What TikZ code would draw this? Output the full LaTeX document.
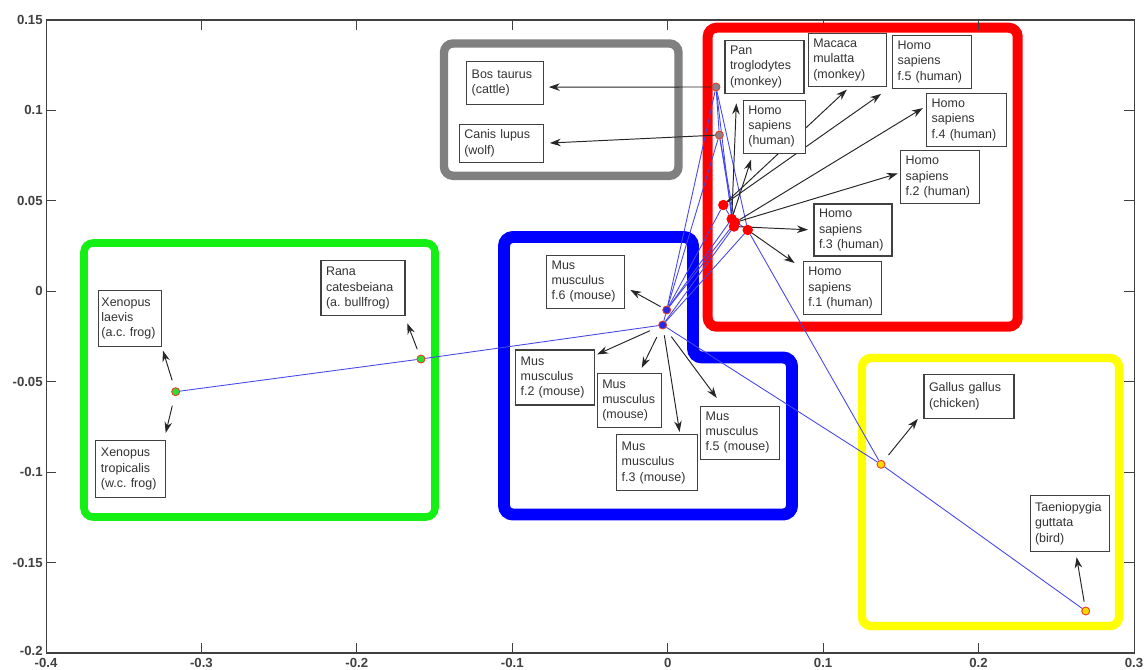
\documentclass[tikz,border=0pt]{standalone}
\usepackage{fontspec}
\setmainfont{Liberation Sans}
\usepackage{tikz}
\usetikzlibrary{arrows.meta,positioning,backgrounds}
\definecolor{grpgray}{RGB}{128,128,128}
\definecolor{grpred}{RGB}{255,0,0}
\definecolor{grpblue}{RGB}{0,0,255}
\definecolor{grpgreen}{RGB}{20,240,20}
\definecolor{grpyellow}{RGB}{255,255,0}
\definecolor{treeblue}{RGB}{70,70,235}
\definecolor{ptedge}{RGB}{230,60,30}
\definecolor{ptgreen}{RGB}{50,220,50}
\definecolor{ptblue}{RGB}{40,40,230}
\definecolor{ptgray}{RGB}{135,130,140}
\definecolor{ptyellow}{RGB}{255,215,0}
\tikzstyle{namebox}  = [rectangle, draw=black!75, fill=white, line width=0.6pt, align=left,
                        inner xsep=0.1cm, inner ysep=0.04cm, text=black!80,
                        font=\fontsize{7.1pt}{8.7pt}\selectfont\frenchspacing]
\tikzstyle{spot}     = [circle, inner sep=0pt, minimum size=0.16cm, draw=ptedge, line width=0.5pt]
\tikzstyle{treeline} = [draw=treeblue, line width=0.5pt]
\tikzstyle{pointer}  = [draw=black!85, line width=0.55pt, -{Stealth[length=0.22cm,width=0.15cm]}]
\tikzstyle{grp}      = [rounded corners=0.18cm]
\tikzstyle{axisline} = [draw=black!75, line width=0.6pt]
\tikzstyle{ticklbl}  = [font=\fontsize{7.5pt}{9pt}\selectfont\bfseries, text=black!75, inner sep=0pt]

\begin{document}
\begin{tikzpicture}[x=0.02cm, y=-0.02cm]
	\useasboundingbox (0,0) rectangle (1148,669);

	\draw[axisline] (46.2,20) rectangle (1134.2,653);
	\foreach \v in {-0.3,-0.2,-0.1,0,0.1,0.2} {
		\draw[axisline] ({667.7+1554.3*(\v)},653) -- ++(0,-10);
		\draw[axisline] ({667.7+1554.3*(\v)},20) -- ++(0,10);
	}
	\foreach \v in {0.1,0.05,0,-0.05,-0.1,-0.15} {
		\draw[axisline] (46.2,{291.3-1808.6*(\v)}) -- ++(10,0);
		\draw[axisline] (1134.2,{291.3-1808.6*(\v)}) -- ++(-10,0);
	}
	\foreach \v [count=\i] in {0.15,0.1,0.05,0,-0.05,-0.1,-0.15,-0.2}
		\node[ticklbl, anchor=east] (ytick\i) at (43,{min(291.3-1808.6*(\v),651)}) {\v};
	\foreach \v [count=\i] in {-0.4,-0.3,-0.2,-0.1,0,0.1,0.2,0.3}
		\node[ticklbl, anchor=north] (xtick\i) at ({667.7+1554.3*(\v)},658) {\v};

	\node[spot, fill=ptgreen] (xenpt) at (175.7,391.7) {};
	\node[spot, fill=ptgreen] (ranapt) at (421,359) {};
	\node[spot, fill=ptblue] (mmpt1) at (666.7,310) {};
	\node[spot, fill=ptblue] (mmpt2) at (662.7,325) {};
	\node[spot, fill=ptgray] (bospt) at (716,87) {};
	\node[spot, fill=ptgray] (canispt) at (719.3,135) {};
	\node[spot, fill=grpred, draw=grpred, minimum size=0.19cm] (hspt1) at (723.3,205) {};
	\node[spot, fill=grpred, draw=grpred, minimum size=0.19cm] (hspt2) at (731.7,219) {};
	\node[spot, fill=grpred, draw=grpred, minimum size=0.19cm] (hspt3) at (735,222.5) {};
	\node[spot, fill=grpred, draw=grpred, minimum size=0.19cm] (hspt4) at (734,226.5) {};
	\node[spot, fill=grpred, draw=grpred, minimum size=0.19cm] (hspt5) at (747.7,230) {};
	\node[spot, fill=ptyellow] (galluspt) at (881,464.3) {};
	\node[spot, fill=ptyellow] (taenpt) at (1085.7,611) {};

	\node[namebox, text width=1.332cm, minimum height=0.852cm] (bos) at (505,83) {Bos taurus\\(cattle)};
	\node[namebox, text width=1.48cm, minimum height=0.76cm] (canis) at (501.3,143.3) {Canis lupus\\(wolf)};
	\node[namebox, text width=1.38cm, minimum height=1.052cm] (pan) at (764.5,67) {Pan\\troglodytes\\(monkey)};
	\node[namebox, text width=1.034cm, minimum height=1.066cm] (homo) at (774.2,126.7) {Homo\\sapiens\\(human)};
	\node[namebox, text width=1.368cm, minimum height=1.068cm] (macaca) at (847.5,60) {Macaca\\mulatta\\(monkey)};
	\node[namebox, text width=1.386cm, minimum height=1.068cm] (hsf5) at (932.3,62) {Homo\\sapiens\\f.5 (human)};
	\node[namebox, text width=1.4cm, minimum height=1.068cm] (hsf4) at (966.7,120) {Homo\\sapiens\\f.4 (human)};
	\node[namebox, text width=1.386cm, minimum height=1.052cm] (hsf2) at (940.3,177) {Homo\\sapiens\\f.2 (human)};
	\node[namebox, text width=1.36cm, minimum height=1.04cm] (hsf3) at (853,230) {Homo\\sapiens\\f.3 (human)};
	\node[namebox, text width=1.354cm, minimum height=1.052cm] (hsf1) at (842.2,288) {Homo\\sapiens\\f.1 (human)};
	\node[namebox, text width=1.15cm, inner xsep=0.06cm, minimum height=1.12cm] (xlaevis) at (130.2,318.7) {Xenopus\\laevis\\(a.c. frog)};
	\node[namebox, text width=1.194cm, minimum height=1.132cm] (xtrop) at (130.8,469) {Xenopus\\tropicalis\\(w.c. frog)};
	\node[namebox, text width=1.48cm, minimum height=1.1cm] (rana) at (363,288.2) {Rana\\catesbeiana\\(a. bullfrog)};
	\node[namebox, text width=1.366cm, minimum height=1.066cm] (mmf6) at (585.8,281.7) {Mus\\musculus\\f.6 (mouse)};
	\node[namebox, text width=1.372cm, minimum height=1.1cm] (mmf2) at (555,377.5) {Mus\\musculus\\f.2 (mouse)};
	\node[namebox, text width=1.08cm, minimum height=1.08cm] (mm) at (629.3,400.3) {Mus\\musculus\\(mouse)};
	\node[namebox, text width=1.412cm, minimum height=1.114cm] (mmf3) at (657,462.8) {Mus\\musculus\\f.3 (mouse)};
	\node[namebox, text width=1.372cm, minimum height=1.066cm] (mmf5) at (740,432.7) {Mus\\musculus\\f.5 (mouse)};
	\node[namebox, text width=1.6cm, minimum height=0.886cm] (gallus) at (969,396.2) {Gallus gallus\\(chicken)};
	\node[namebox, text width=1.386cm, minimum height=1.12cm] (taen) at (1069.7,523.7) {Taeniopygia\\guttata\\(bird)};

	\begin{scope}[on background layer]
		\draw[grp, grpgray, line width=4.8pt] (444,43.5) rectangle (678.5,175.8);
		\draw[grp, grpred, line width=5.7pt] (707.7,27.7) rectangle (1017.7,326.7);
		\draw[grp, grpgreen, line width=4.3pt] (84,243) rectangle (435,517);
		\draw[grp, grpyellow, line width=4.8pt] (862,358) rectangle (1119,626);
		\draw[grp, grpblue, line width=6.8pt] (504,237) -- (693,237) -- (693,357.5) -- (792,357.5)
			-- (792,514.5) -- (504,514.5) -- cycle;

		\draw[treeline] (xenpt) -- (ranapt);
		\draw[treeline] (ranapt) -- (mmpt2);
		\draw[treeline] (mmpt2) -- (mmpt1);
		\draw[treeline] (mmpt2) -- (galluspt);
		\draw[treeline] (galluspt) -- (taenpt);
		\draw[treeline] (hspt5) -- (galluspt);
		\draw[treeline] (mmpt1) -- (bospt);
		\draw[treeline] (mmpt1) -- (canispt);
		\draw[treeline] (bospt) -- (canispt);
		\draw[treeline] (bospt) -- (hspt2);
		\draw[treeline] (bospt) -- (hspt5);
		\draw[treeline] (canispt) -- (hspt3);
		\draw[treeline] (canispt) -- (hspt4);
		\draw[treeline] (mmpt1) -- (hspt1);
		\draw[treeline] (mmpt1) -- (hspt2);
		\draw[treeline] (mmpt1) -- (hspt3);
		\draw[treeline] (mmpt2) -- (hspt4);
		\draw[treeline] (mmpt2) -- (hspt5);
		\draw[treeline] (hspt1) -- (hspt2);
		\draw[treeline] (hspt2) -- (hspt5);

		\draw[pointer, shorten >=0.1cm] (bospt) -- (bos.-6);
		\draw[pointer, shorten >=0.12cm] (canispt) -- (canis.east);
		\draw[pointer, shorten >=0.19cm] (hspt2) -- (pan.-136);
		\draw[pointer, shorten >=0.12cm] (hspt2) -- (homo.-128);
		\draw[pointer, shorten >=0.07cm] (hspt1) -- (macaca.-86);
		\draw[pointer, shorten >=0.27cm] (hspt1) -- (hsf5.-149);
		\draw[pointer, shorten >=0.08cm] (hspt3) -- (hsf4.161);
		\draw[pointer, shorten >=0.05cm] (hspt3) -- (hsf2.174);
		\draw[pointer, shorten >=0.11cm] (hspt4) -- (hsf3.west);
		\draw[pointer, shorten >=0.2cm] (hspt5) -- (hsf1.154);
		\draw[pointer, shorten <=0.15cm, shorten >=0.07cm] (xenpt) -- (xlaevis.-42);
		\draw[pointer, shorten <=0.2cm, shorten >=0.15cm] (xenpt) -- (xtrop.41);
		\draw[pointer, shorten <=0.12cm, shorten >=0.15cm] (ranapt) -- (rana.-34);
		\draw[pointer, shorten <=0.05cm, shorten >=0.11cm] (mmpt1) -- (mmf6.-8);
		\draw[pointer, shorten <=0.19cm, shorten >=0.05cm] (mmpt2) -- (mmf2.29);
		\draw[pointer, shorten <=0.18cm, shorten >=0.11cm] (mmpt2) -- (mm.70);
		\draw[pointer, shorten <=0.12cm, shorten >=0.05cm] (mmpt2) -- (mmf3.51);
		\draw[pointer, shorten <=0.2cm, shorten >=0.19cm] (mmpt2) -- (mmf5.123);
		\draw[pointer, shorten <=0.15cm, shorten >=0.18cm] (galluspt) -- (gallus.-161);
		\draw[pointer, shorten <=0.1cm, shorten >=0.1cm] (taenpt) -- (taen.-78);
	\end{scope}
\end{tikzpicture}
\end{document}
